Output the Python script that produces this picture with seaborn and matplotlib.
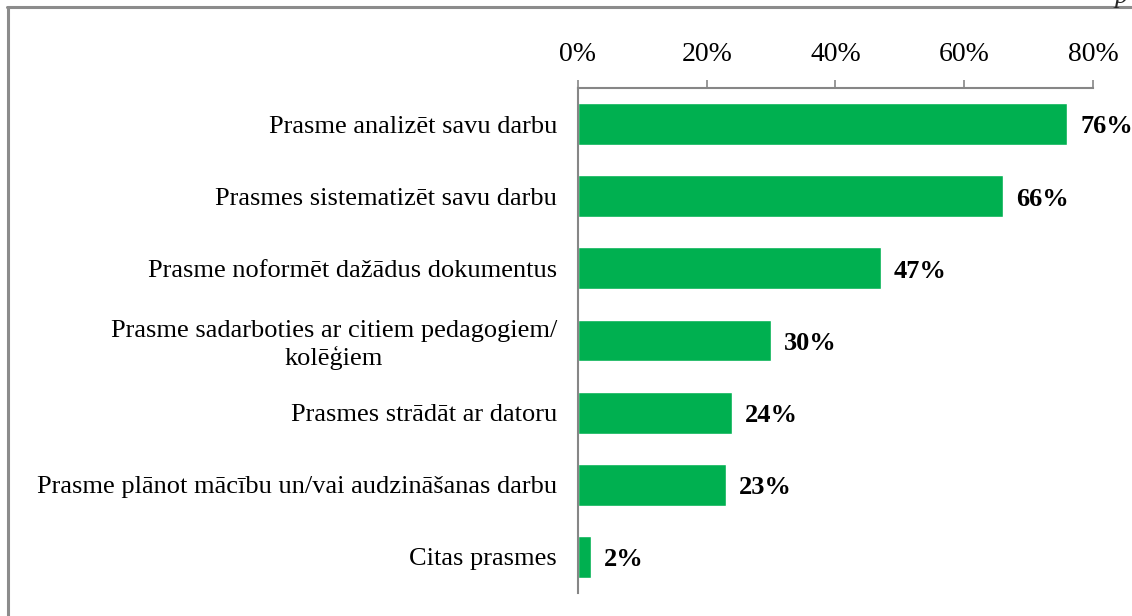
import numpy as np
import pandas as pd
import matplotlib
matplotlib.use("Agg")
import matplotlib.pyplot as plt
import seaborn as sns
from matplotlib.lines import Line2D
from matplotlib.ticker import FixedLocator, PercentFormatter

# Chart data
skills = [
    "Prasme analizēt savu darbu",
    "Prasmes sistematizēt savu darbu",
    "Prasme noformēt dažādus dokumentus",
    "Prasme sadarboties ar citiem pedagogiem/\nkolēģiem",
    "Prasmes strādāt ar datoru",
    "Prasme plānot mācību un/vai audzināšanas darbu",
    "Citas prasmes",
]
shares = [76, 66, 47, 30, 24, 23, 2]
x_ticks = [0, 20, 40, 60, 80]

sns.set_theme(style="white")
plt.rcParams["font.family"] = ["Liberation Serif", "DejaVu Serif"]

GREEN = "#00B050"
AXIS_GRAY = "#868686"

df = pd.DataFrame({"skill": skills, "share": shares})

fig = plt.figure(figsize=(11.32, 6.16), dpi=100)
ax = fig.add_axes([0.5106, 0.0373, 0.4549, 0.8198])

sns.barplot(data=df, x="share", y="skill", color=GREEN, width=0.58,
            saturation=1, ax=ax)

ax.set_xlim(0, 80)
ax.set_ylim(len(skills) - 0.5, -0.5)
ax.set_xlabel("")
ax.set_ylabel("")

# x axis on top
ax.xaxis.tick_top()
ax.xaxis.set_major_locator(FixedLocator(x_ticks))
ax.xaxis.set_major_formatter(PercentFormatter(decimals=0))
ax.tick_params(axis="x", which="major", direction="out", length=6, width=1.2,
               color=AXIS_GRAY, labelsize=20, pad=9, labelcolor="black")

# y ticks between categories
ax.tick_params(axis="y", which="major", length=0, labelsize=19, pad=15,
               labelcolor="black")
ax.set_yticks(np.arange(-0.5, len(skills)), minor=True)
ax.tick_params(axis="y", which="minor", direction="out", length=7, width=1.2,
               color=AXIS_GRAY)
for lbl in ax.get_yticklabels():
    lbl.set_multialignment("center")

for side in ["bottom", "right"]:
    ax.spines[side].set_visible(False)
for side in ["top", "left"]:
    ax.spines[side].set_color(AXIS_GRAY)
    ax.spines[side].set_linewidth(1.5)

# value labels
for i, v in enumerate(shares):
    ax.text(v + 2.0, i + 0.04, f"{v}%", va="center", ha="left",
            fontsize=19, fontweight="bold", color="black")

# frame lines of the original document box
fig.add_artist(Line2D([8 / 1132, 8 / 1132], [0, 1 - 7 / 616],
                      transform=fig.transFigure, color="#8c8c8c", lw=2.2))
fig.add_artist(Line2D([7 / 1132, 1], [1 - 7 / 616, 1 - 7 / 616],
                      transform=fig.transFigure, color="#8c8c8c", lw=2.2))
# descender of a cut-off letter from the page above the chart
fig.text(1121 / 1132, 1 - 3 / 616, "p", fontsize=19, style="italic",
         ha="center", va="baseline")

fig.savefig("out.png", dpi=100, facecolor="white")
